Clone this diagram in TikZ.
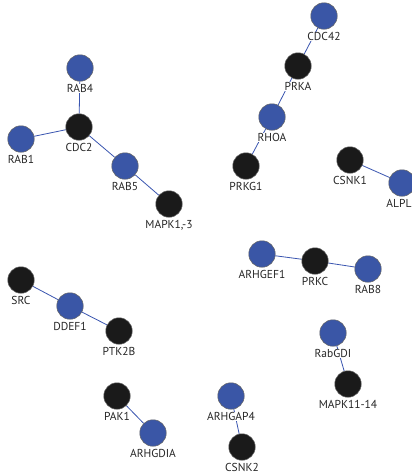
\documentclass[tikz,border=0pt]{standalone}
\usepackage{fontspec}
\setmainfont{PT Sans}
\usetikzlibrary{backgrounds}
\definecolor{nblue}{HTML}{3A56A6}
\definecolor{nblack}{HTML}{1A1A1A}
\definecolor{eblue}{HTML}{3A55B0}
\tikzset{
  lbl/.style={inner sep=0.5pt, fill=white, font=\fontsize{11.5}{12}\selectfont, text=black!85},
  gene/.style={circle, minimum size=26.5pt, inner sep=0pt, draw=black!60, line width=0.5pt,
    label={[lbl, label distance=2pt]below:{#1}}},
  bnode/.style={gene={#1}, fill=nblue},
  knode/.style={gene={#1}, fill=nblack},
  link/.style={draw=eblue, line width=0.8pt}
}
\begin{document}
\begin{tikzpicture}[x=1pt,y=-1pt]
\useasboundingbox (0,0) rectangle (412,474);
% cluster 1
\node[bnode=RAB4] (rab4) at (80,68) {};
\node[knode=CDC2] (cdc2) at (79,127) {};
\node[bnode=RAB1] (rab1) at (21,139) {};
\node[bnode=RAB5] (rab5) at (125,166) {};
\node[knode={MAPK1,-3}] (mapk1) at (169,204) {};
% cluster 2
\node[bnode=CDC42] (cdc42) at (324,16) {};
\node[knode=PRKA] (prka) at (298,66) {};
\node[bnode=RHOA] (rhoa) at (272,117) {};
\node[knode=PRKG1] (prkg1) at (246,166) {};
% cluster 3
\node[knode=CSNK1] (csnk1) at (350,160) {};
\node[circle, minimum size=26.5pt, inner sep=0pt, draw=black!60, line width=0.5pt, fill=nblue,
  label={[lbl, label distance=2pt, xshift=-3pt]below:{ALPL}}] (alpl) at (402,183) {};
% cluster 4
\node[knode=SRC] (src) at (21,280) {};
\node[bnode=DDEF1] (ddef1) at (70,306) {};
\node[knode=PTK2B] (ptk2b) at (119,331) {};
% cluster 5
\node[bnode=ARHGEF1] (arhgef1) at (262,254) {};
\node[knode=PRKC] (prkc) at (315,261) {};
\node[bnode=RAB8] (rab8) at (368,269) {};
% cluster 6
\node[bnode=RabGDI] (rabgdi) at (333,333) {};
\node[knode={MAPK11-14}] (mapk11) at (348,384) {};
% cluster 7
\node[knode=PAK1] (pak1) at (117,396) {};
\node[bnode=ARHGDIA] (arhgdia) at (153,433) {};
% cluster 8
\node[bnode=ARHGAP4] (arhgap4) at (231,396) {};
\node[knode=CSNK2] (csnk2) at (242,447) {};
\begin{scope}[on background layer]
\fill[white] (0,0) rectangle (412,474);
\draw[link] (rab4) -- (cdc2);
\draw[link] (rab1) -- (cdc2);
\draw[link] (cdc2) -- (rab5);
\draw[link] (rab5) -- (mapk1);
\draw[link] (cdc42) -- (prka);
\draw[link] (prka) -- (rhoa);
\draw[link] (rhoa) -- (prkg1);
\draw[link] (csnk1) -- (alpl);
\draw[link] (src) -- (ddef1);
\draw[link] (ddef1) -- (ptk2b);
\draw[link] (arhgef1) -- (prkc);
\draw[link] (prkc) -- (rab8);
\draw[link] (rabgdi) -- (mapk11);
\draw[link] (pak1) -- (arhgdia);
\draw[link] (arhgap4) -- (csnk2);
\end{scope}
\end{tikzpicture}
\end{document}
